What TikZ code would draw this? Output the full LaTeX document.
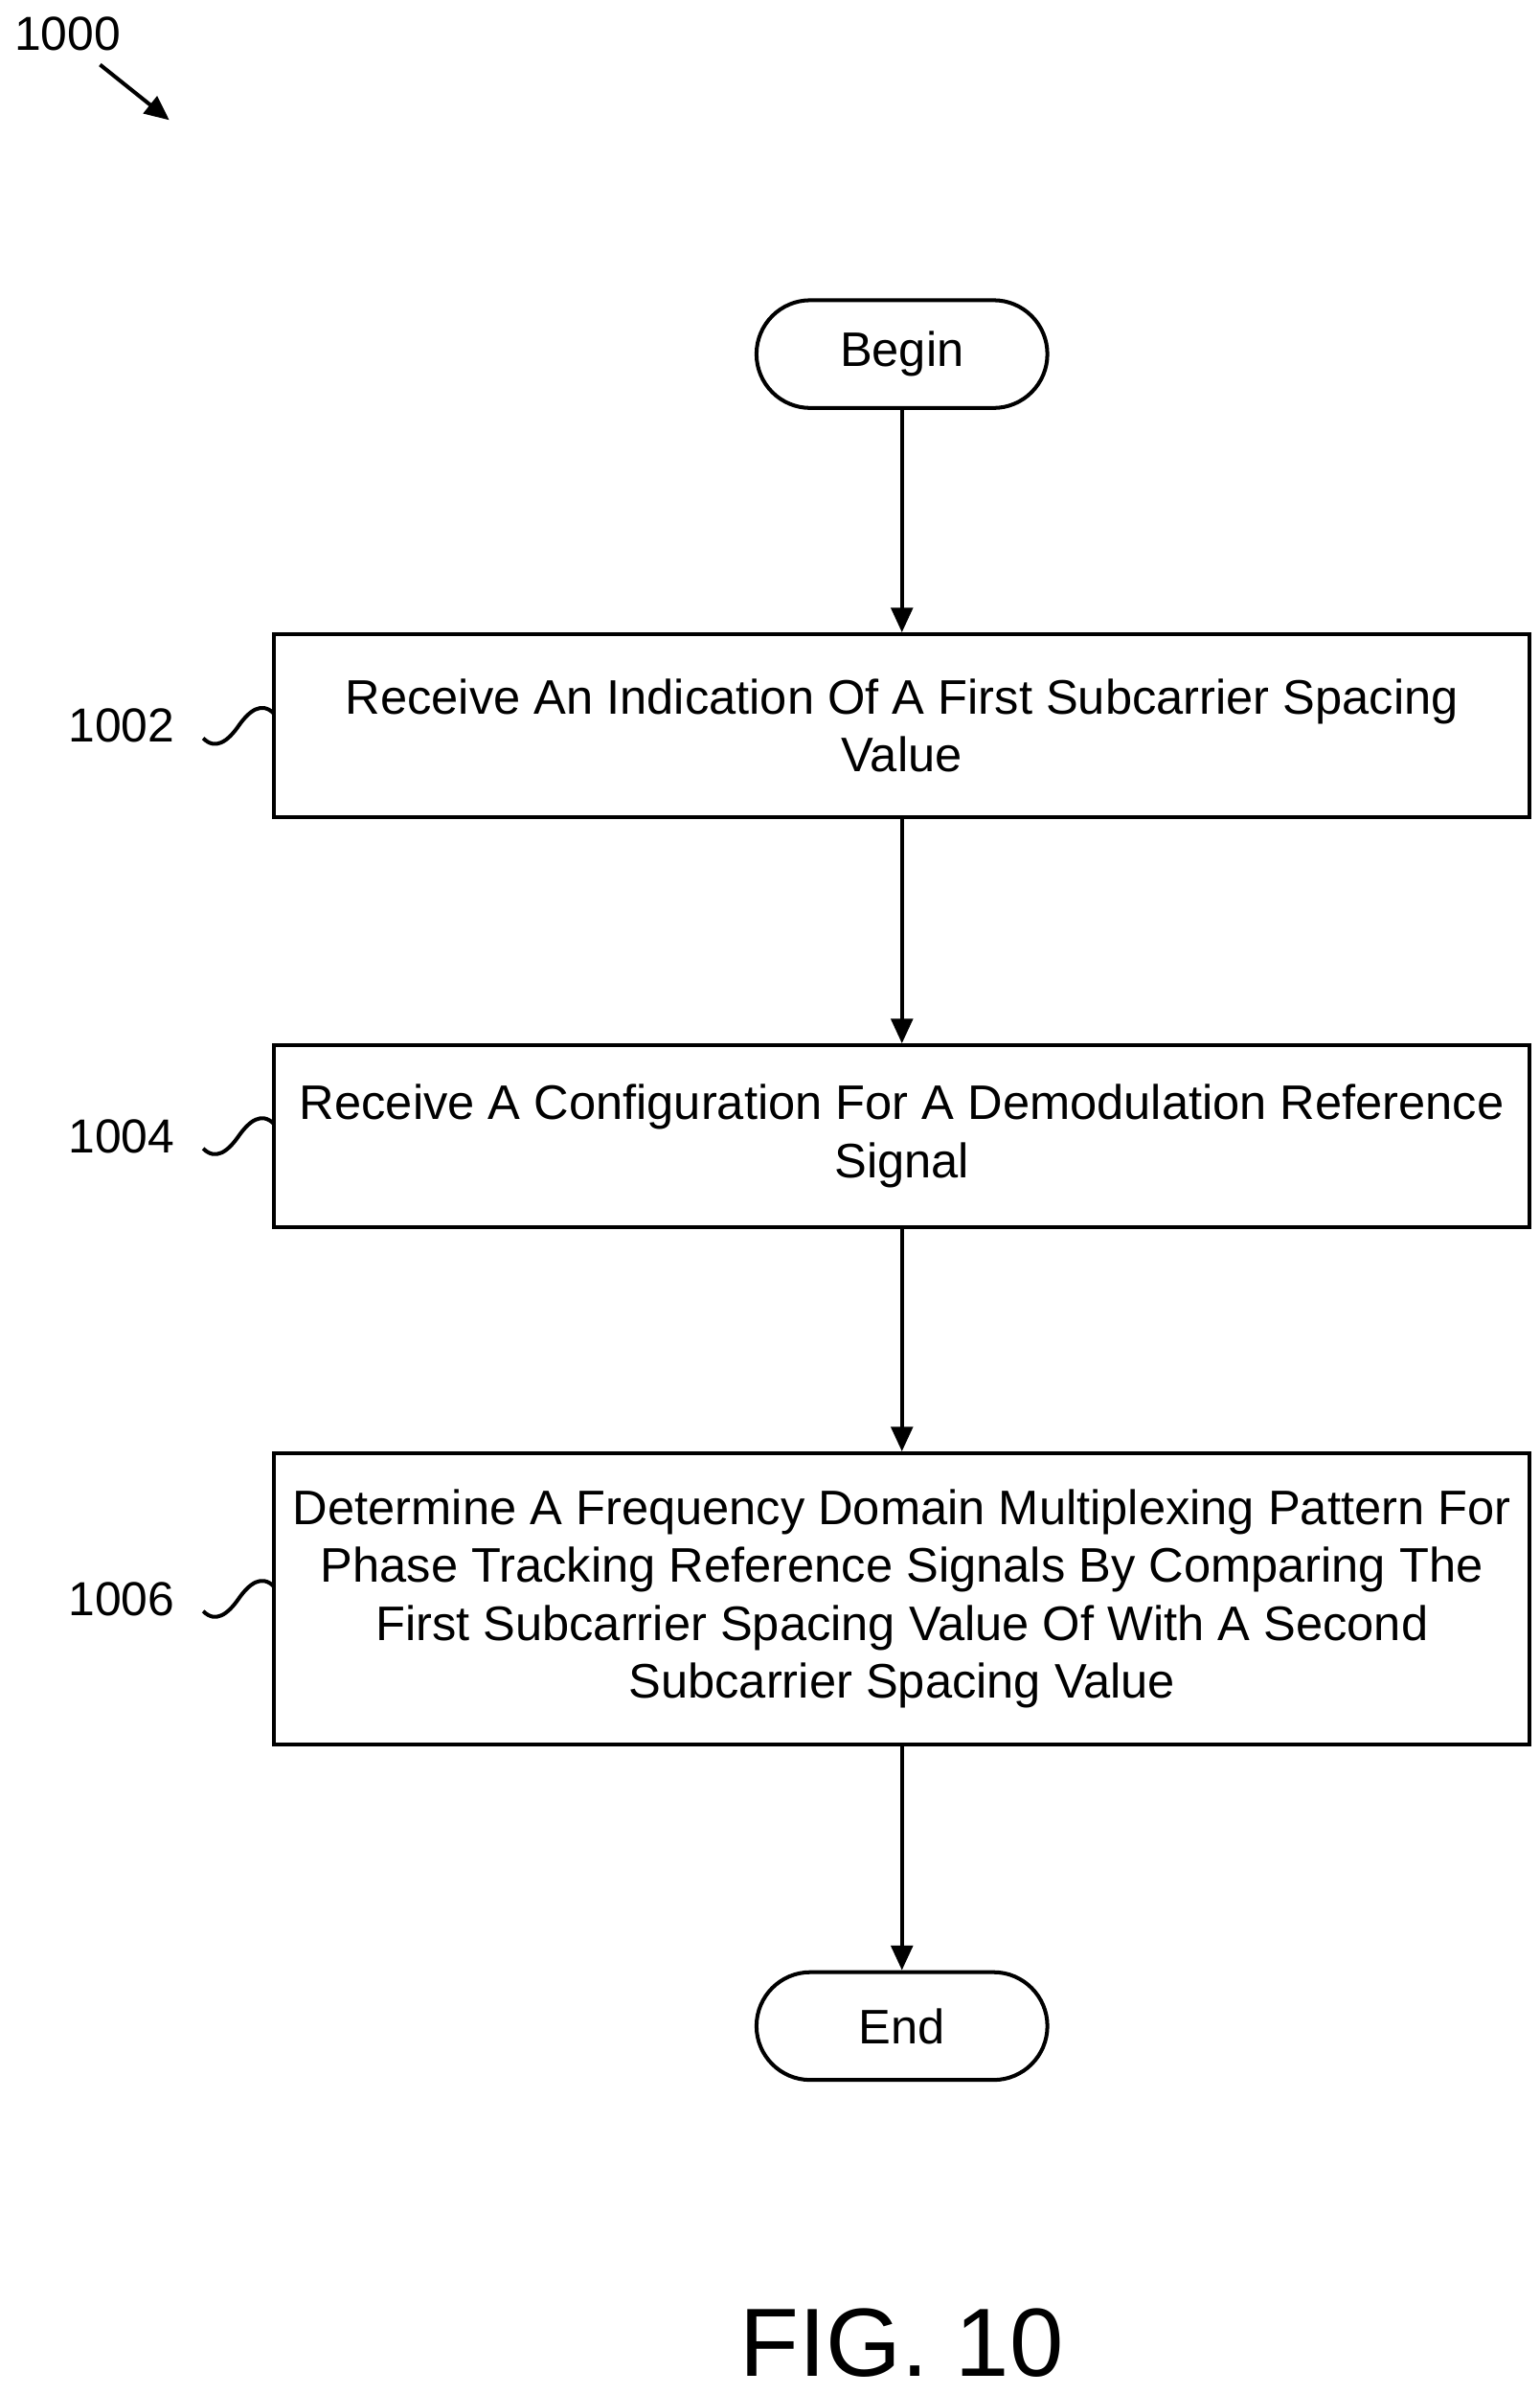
\documentclass[tikz,border=0pt]{standalone}
\usepackage{fontspec}
\setmainfont{Liberation Sans}
\usetikzlibrary{arrows.meta}
\begin{document}
\begin{tikzpicture}[x=1pt,y=-1pt,
  box/.style={draw,line width=2.5pt,minimum width=816pt,align=center,font=\fontsize{31.5}{37.5}\selectfont},
  term/.style={draw,line width=2.5pt,rounded corners=35pt,minimum width=189pt,minimum height=70pt,font=\fontsize{31.5}{38}\selectfont},
  arr/.style={line width=2.5pt,-{Triangle[length=16pt,width=14pt]}},
  lab/.style={font=\fontsize{31}{38}\selectfont},
  sq/.style={line width=2.5pt}]
\useasboundingbox (0,0) rectangle (1000,1555);
\node[term] (b) at (586,230) {Begin};
\node[box,minimum height=119pt] (s1) at (586,471.5) {Receive An Indication Of A First Subcarrier Spacing\\Value};
\node[box,minimum height=118pt] (s2) at (586,738) {Receive A Configuration For A Demodulation Reference\\Signal};
\node[box,minimum height=189pt] (s3) at (586,1038.5) {Determine A Frequency Domain Multiplexing Pattern For\\Phase Tracking Reference Signals By Comparing The\\First Subcarrier Spacing Value Of With A Second\\Subcarrier Spacing Value};
\node[term] (e) at (586,1316) {End};
\draw[arr] (b) -- (s1);
\draw[arr] (s1) -- (s2);
\draw[arr] (s2) -- (s3);
\draw[arr] (s3) -- (e);
\foreach \n/\y in {1002/471.5,1004/738,1006/1038.5}{
  \node[lab,anchor=east] (l\n) at (117,\y) {\n};
  \draw[sq] (132,\y+8) .. controls (140,\y+16) and (148,\y+10) .. (155,\y) .. controls (162,\y-10) and (170,\y-16) .. (178,\y-8);
}
\node[lab] (t) at (44,22) {1000};
\coordinate (a0) at (65,42);
\coordinate (a1) at (110,78);
\draw[arr] (a0) -- (a1);
\node[font=\fontsize{63}{72}\selectfont] (fig) at (586,1522) {FIG. 10};
\end{tikzpicture}
\end{document}
